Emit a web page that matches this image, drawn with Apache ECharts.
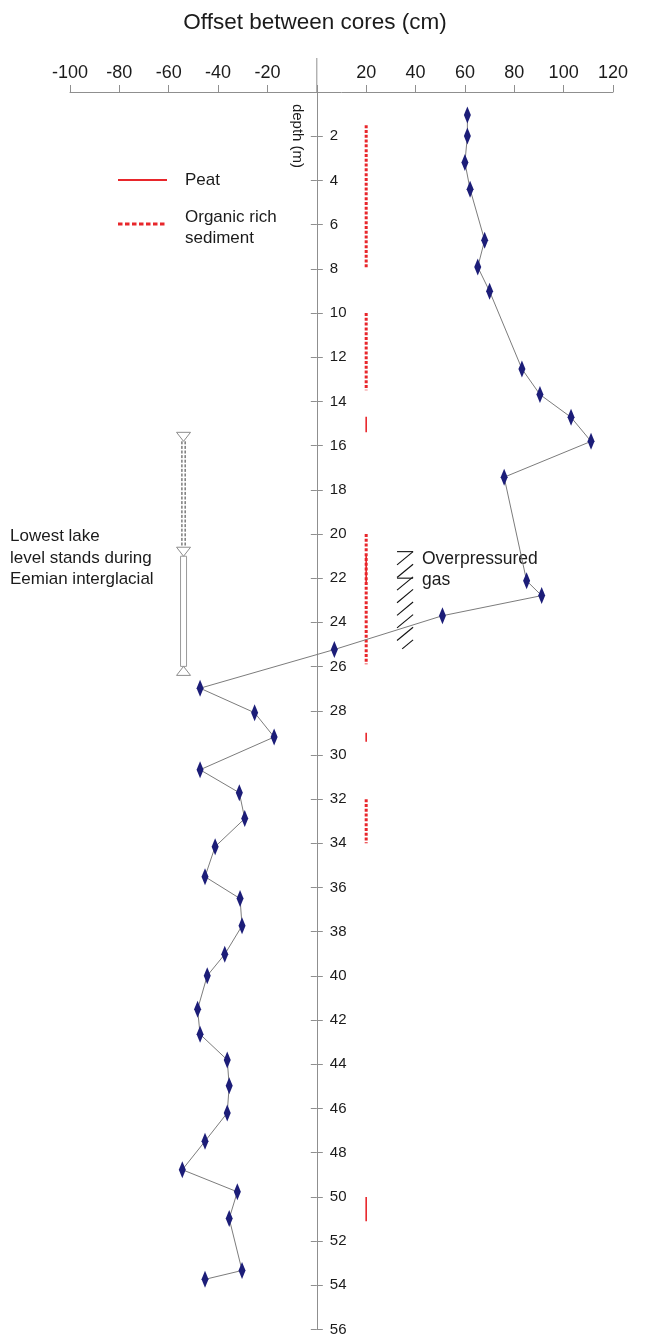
<!DOCTYPE html>
<html>
<head>
<meta charset="utf-8">
<script src="https://cdn.jsdelivr.net/npm/echarts@6/dist/echarts.min.js"></script>
<style>
  html, body { margin: 0; padding: 0; background: #ffffff; }
  #chart { width: 651px; height: 1337px; }
</style>
</head>
<body>
<div id="chart"></div>
<script>
// Offset between the two cores (cm) measured down the borehole (m)
const depthM = [1.04, 1.99, 3.19, 4.40, 6.71, 7.92, 9.02, 12.53, 13.69, 14.72, 15.81, 17.43,
  22.12, 22.79, 23.70, 25.23, 26.98, 28.09, 29.19, 30.67, 31.71, 32.88, 34.15, 35.51,
  36.50, 37.73, 39.02, 39.99, 41.51, 42.64, 43.80, 44.97, 46.20, 47.48, 48.77, 49.77,
  50.98, 53.33, 53.73];
const offsetCm = [61.0, 61.0, 60.0, 62.1, 68.0, 65.2, 70.0, 83.1, 90.4, 103.0, 111.1, 75.9,
  85.0, 91.1, 50.9, 7.1, -47.3, -25.2, -17.3, -47.3, -31.4, -29.2, -41.2, -45.3,
  -31.1, -30.3, -37.3, -44.4, -48.3, -47.3, -36.3, -35.5, -36.3, -45.3, -54.5, -32.2,
  -35.5, -30.3, -45.3];

// Lithology column drawn at offset 20
const lithoColumnX = 20;
const organicTop = [1.5, 10.0, 20.0, 32.0];
const organicBottom = [8.0, 13.5, 25.9, 34.0];
const peatTop = [14.7, 21.0, 29.0, 50.0];
const peatBottom = [15.4, 22.2, 29.4, 51.1];

// Lowest lake level stands (Eemian): uncertain part, then confirmed part
const lakeX = -54;
const lakeMarkDepths = [15.4, 20.6, 26.4];

// Overpressured gas interval
const gasXRange = [32.5, 39.0];
const gasDepths = [20.8, 22.0, 25.2];

// Axis ranges and labels
const xMin = -100, xMax = 120, xStep = 20;
const yMin = 0, yMax = 56, yStep = 2;
const titleText = 'Offset between cores (cm)';
const depthTitle = 'depth (m)';
const peatLabel = 'Peat';
const organicLabel = 'Organic rich\nsediment';
const lakeLabel = 'Lowest lake\nlevel stands during\nEemian interglacial';
const gasLabel = 'Overpressured\ngas';

const FONT = '"Liberation Sans", Arial, Helvetica, sans-serif';
const RED = '#e8262b';
const AXIS_GREY = '#8f8f8f';
const TEXT = '#1b1b1b';

const GRID = { left: 70, right: 38, top: 92, bottom: 5 };

const chart = echarts.init(document.getElementById('chart'), null, { renderer: 'canvas' });

const hideZero = v => (v === 0 ? '' : String(v));

const organicData = organicTop.map((t, i) => [lithoColumnX, t, organicBottom[i]]);
const peatData = peatTop.map((t, i) => [lithoColumnX, t, peatBottom[i]]);

function intervalRenderer(style) {
  return function (params, api) {
    const a = api.coord([api.value(0), api.value(1)]);
    const b = api.coord([api.value(0), api.value(2)]);
    return {
      type: 'line',
      shape: { x1: a[0], y1: a[1], x2: b[0], y2: b[1] },
      style: style
    };
  };
}

function renderLake(params, api) {
  const x = api.value(0);
  const pTop = api.coord([x, api.value(1)]);
  const pMid = api.coord([x, api.value(2)]);
  const pBot = api.coord([x, api.value(3)]);
  const cx = pTop[0];
  const hw = 7, th = 9;
  const triStyle = { fill: '#ffffff', stroke: '#8c8c8c', lineWidth: 1 };
  return {
    type: 'group',
    children: [
      { type: 'line', shape: { x1: cx - 1.6, y1: pTop[1] + th, x2: cx - 1.6, y2: pMid[1] },
        style: { stroke: '#3a3a3a', lineWidth: 1, lineDash: [3, 1.6] } },
      { type: 'line', shape: { x1: cx + 1.6, y1: pTop[1] + th, x2: cx + 1.6, y2: pMid[1] },
        style: { stroke: '#3a3a3a', lineWidth: 1, lineDash: [3, 1.6] } },
      { type: 'rect', shape: { x: cx - 3, y: pMid[1] + th, width: 6, height: (pBot[1] - th) - (pMid[1] + th) },
        style: { fill: '#ffffff', stroke: '#9a9a9a', lineWidth: 1 } },
      { type: 'polygon', shape: { points: [[cx - hw, pTop[1]], [cx + hw, pTop[1]], [cx, pTop[1] + th]] }, style: triStyle },
      { type: 'polygon', shape: { points: [[cx - hw, pMid[1]], [cx + hw, pMid[1]], [cx, pMid[1] + th]] }, style: triStyle },
      { type: 'polygon', shape: { points: [[cx - hw, pBot[1]], [cx + hw, pBot[1]], [cx, pBot[1] - th]] }, style: triStyle }
    ]
  };
}

function renderGas(params, api) {
  const tl = api.coord([api.value(0), api.value(2)]);
  const mid = api.coord([api.value(0), api.value(3)]);
  const br = api.coord([api.value(1), api.value(4)]);
  const x0 = tl[0], x1 = br[0], top = tl[1], bottom = br[1];
  const w = x1 - x0;
  const rise = 13.3, gap = 12.6;
  const lineStyle = { stroke: '#111111', lineWidth: 1.1 };
  const children = [
    { type: 'line', shape: { x1: x0, y1: top, x2: x1, y2: top }, style: lineStyle },
    { type: 'line', shape: { x1: x0, y1: mid[1], x2: x1, y2: mid[1] }, style: lineStyle }
  ];
  // diagonal hatching clipped to the box
  for (let yl = top + rise; yl < bottom + rise; yl += gap) {
    let ax = x0, ay = yl, bx = x1, by = yl - rise;
    if (ay > bottom) { ax = x0 + (ay - bottom) / rise * w; ay = bottom; }
    if (by < top) { bx = x0 + (yl - top) / rise * w; by = top; }
    children.push({ type: 'line', shape: { x1: ax, y1: ay, x2: bx, y2: by }, style: lineStyle });
  }
  return { type: 'group', children: children };
}

const depthAxisBase = {
  type: 'value', inverse: true, min: yMin, max: yMax, interval: yStep,
  axisLine: { show: true, onZero: false, lineStyle: { color: AXIS_GREY, width: 1 } },
  axisTick: { show: true, length: 6, lineStyle: { color: AXIS_GREY, width: 1 } },
  splitLine: { show: false }
};

const option = {
  animation: false,
  backgroundColor: '#ffffff',
  textStyle: { fontFamily: FONT },
  grid: Object.assign({ containLabel: false }, GRID),
  xAxis: [
    {
      type: 'value', position: 'top', min: xMin, max: xMax, interval: xStep,
      axisLine: { show: true, onZero: false, lineStyle: { color: AXIS_GREY, width: 1 } },
      axisTick: { show: true, inside: false, length: 7, lineStyle: { color: AXIS_GREY, width: 1 } },
      axisLabel: { show: true, fontSize: 18, color: TEXT, fontFamily: FONT, margin: 10,
        showMinLabel: true, showMaxLabel: true, formatter: hideZero },
      splitLine: { show: false }
    }
  ],
  yAxis: [
    // labelled half: ticks and labels to the right of the zero line
    Object.assign({}, depthAxisBase, {
      position: 'right', offset: 0,
      axisLabel: { show: true, fontSize: 15, color: TEXT, fontFamily: FONT, margin: 13,
        showMinLabel: true, showMaxLabel: true, formatter: hideZero }
    }),
    // left half of the crossing ticks
    Object.assign({}, depthAxisBase, {
      position: 'left', offset: 0,
      axisLabel: { show: false }
    })
  ],
  series: [
    {
      name: 'Organic rich sediment', type: 'custom', xAxisIndex: 0, yAxisIndex: 0,
      data: organicData, clip: false, z: 2,
      renderItem: intervalRenderer({ stroke: RED, lineWidth: 3, lineDash: [3, 1.8] })
    },
    {
      name: 'Peat', type: 'custom', xAxisIndex: 0, yAxisIndex: 0,
      data: peatData, clip: false, z: 3,
      renderItem: intervalRenderer({ stroke: RED, lineWidth: 1.6 })
    },
    {
      name: 'Lake level', type: 'custom', xAxisIndex: 0, yAxisIndex: 0,
      data: [[lakeX].concat(lakeMarkDepths)], clip: false, z: 2,
      renderItem: renderLake
    },
    {
      name: 'Overpressured gas', type: 'custom', xAxisIndex: 0, yAxisIndex: 0,
      data: [gasXRange.concat(gasDepths)], clip: false, z: 2,
      renderItem: renderGas
    },
    {
      name: 'Offset', type: 'line', xAxisIndex: 0, yAxisIndex: 0,
      data: depthM.map((d, i) => [offsetCm[i], d]),
      symbol: 'diamond', symbolSize: [7, 17], showSymbol: true, showAllSymbol: true,
      itemStyle: { color: '#1c1d78' },
      lineStyle: { color: '#7c7c7c', width: 1 },
      clip: false, z: 5
    }
  ]
};

chart.setOption(option);

// Move both depth axes onto the zero offset line
const origin = chart.convertToPixel({ xAxisIndex: 0, yAxisIndex: 0 }, [0, 0]);
const chartW = chart.getWidth();
const rightEdge = chartW - GRID.right;
chart.setOption({
  yAxis: [
    { offset: -(rightEdge - origin[0]) },
    { offset: -(origin[0] - GRID.left) }
  ],
  graphic: [
    { type: 'line', shape: { x1: origin[0], y1: origin[1] - 34, x2: origin[0], y2: origin[1] },
      style: { stroke: AXIS_GREY, lineWidth: 1 }, z: 10 },
    { type: 'text', x: 315, y: 23,
      style: { text: titleText, font: '22.5px ' + FONT, fill: TEXT, align: 'center', verticalAlign: 'middle' } },
    { type: 'text', x: 297, y: 136, rotation: -Math.PI / 2,
      style: { text: depthTitle, font: '15px ' + FONT, fill: TEXT, align: 'center', verticalAlign: 'middle' } },
    { type: 'line', shape: { x1: 118, y1: 180, x2: 167, y2: 180 }, style: { stroke: RED, lineWidth: 1.8 } },
    { type: 'line', shape: { x1: 118, y1: 224, x2: 166, y2: 224 }, style: { stroke: RED, lineWidth: 3, lineDash: [4.5, 2.5] } },
    { type: 'text', x: 185, y: 180,
      style: { text: peatLabel, font: '17px ' + FONT, fill: TEXT, align: 'left', verticalAlign: 'middle' } },
    { type: 'text', x: 185, y: 228,
      style: { text: organicLabel, font: '17px ' + FONT, fill: TEXT, align: 'left', verticalAlign: 'middle', lineHeight: 21 } },
    { type: 'text', x: 10, y: 558,
      style: { text: lakeLabel, font: '17px ' + FONT, fill: TEXT, align: 'left', verticalAlign: 'middle', lineHeight: 21.5 } },
    { type: 'text', x: 422, y: 570,
      style: { text: gasLabel, font: '17.5px ' + FONT, fill: TEXT, align: 'left', verticalAlign: 'middle', lineHeight: 21 } }
  ]
});
</script>
</body>
</html>
